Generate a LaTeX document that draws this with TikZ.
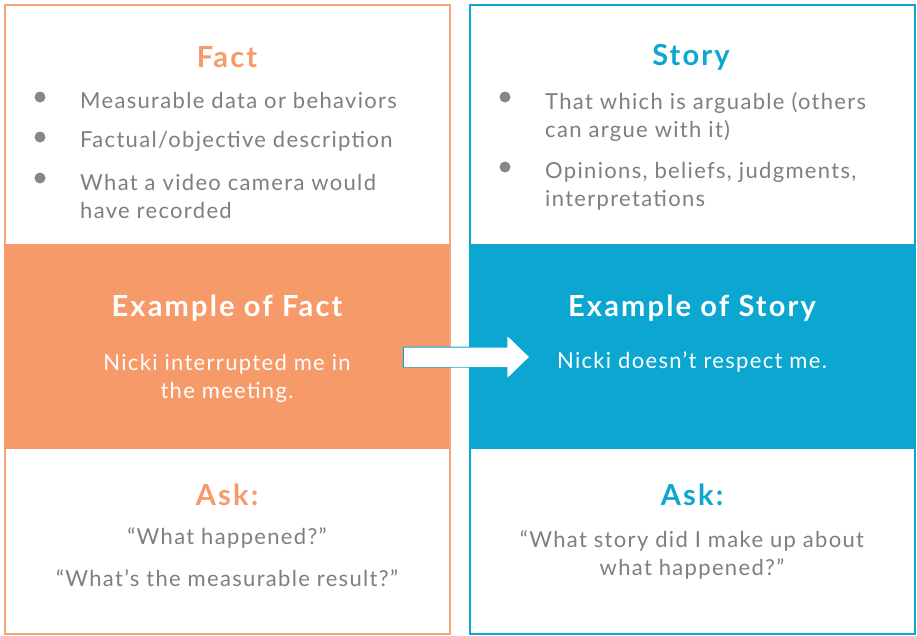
\documentclass[tikz,border=0pt]{standalone}
\usepackage{fontspec}
\setmainfont{Lato}
\newfontfamily\bodyfont{Lato}[LetterSpace=6]
\newfontfamily\headfont{Lato}[LetterSpace=7.5]
\definecolor{factorange}{HTML}{F79A69}
\definecolor{factline}{HTML}{F7A47C}
\definecolor{storyblue}{HTML}{0BA7D0}
\definecolor{bodygrey}{HTML}{7F7F7F}
\definecolor{dotgrey}{HTML}{86868A}
\begin{document}
\begin{tikzpicture}[x=1pt,y=-1pt,
  panel/.style={draw=#1,line width=2pt,fill=white,minimum width=445pt,minimum height=629pt,inner sep=0pt,anchor=north west},
  band/.style={fill=#1,minimum width=445pt,minimum height=205pt,inner sep=0pt,anchor=north west},
  heading/.style={text=#1,font=\headfont\fontsize{29}{33}\selectfont\bfseries,inner sep=0pt},
  bandhead/.style={text=white,font=\headfont\fontsize{29}{33}\selectfont\bfseries,inner sep=0pt},
  body/.style={text=bodygrey,font=\bodyfont\fontsize{22}{28.5}\selectfont,inner sep=0pt},
  bandbody/.style={text=white,font=\bodyfont\fontsize{22}{28.5}\selectfont,inner sep=0pt,align=center},
  dot/.style={circle,fill=dotgrey,minimum size=11pt,inner sep=0pt},
  item/.style={body,anchor=west,align=left},
]
\useasboundingbox (0,0) rectangle (917,635);

% two panels
\node[panel=factline] (factpanel) at (4,4) {};
\node[panel=storyblue] (storypanel) at (469,4) {};

% coloured middle bands
\node[band=factorange] (factband) at (4,244) {};
\node[band=storyblue] (storyband) at (469,244) {};

% --- Fact panel ---
\node[heading=factorange] (facttitle) at (227,57) {Fact};
\node[dot] (fd1) at (40,97) {};
\node[item] (fi1) at (80,100) {Measurable data or behaviors};
\node[dot] (fd2) at (40,137) {};
\node[item] (fi2) at (80,141) {Factual/objective description};
\node[dot] (fd3) at (40,178) {};
\node[item,anchor=north west] (fi3) at (80,174) {What a video camera would\\have recorded};

\node[bandhead] (factexhead) at (227,308) {Example of Fact};
\node[bandbody,anchor=north] (factex) at (227,354) {Nicki interrupted me in\\the meeting.};

\node[heading=factorange] (factask) at (227,495) {Ask:};
\node[body] (factq1) at (227,538) {“What happened?”};
\node[body] (factq2) at (227,578) {“What’s the measurable result?”};

% --- Story panel ---
\node[heading=storyblue] (storytitle) at (691,57) {Story};
\node[dot] (sd1) at (505,97) {};
\node[item,anchor=north west] (si1) at (545,92) {That which is arguable (others\\can argue with it)};
\node[dot] (sd2) at (505,167) {};
\node[item,anchor=north west] (si2) at (545,162) {Opinions, beliefs, judgments,\\interpretations};

\node[bandhead] (storyexhead) at (692,308) {Example of Story};
\node[bandbody] (storyex) at (692,362) {Nicki doesn’t respect me.};

\node[heading=storyblue] (storyask) at (692,495) {Ask:};
\node[body,align=center,anchor=north] (storyq) at (692,530) {“What story did I make up about\\what happened?”};

% block arrow from the fact example to the story example
\coordinate (arrtail) at (factband.east |- 0,357);
\draw[storyblue,line width=1pt,fill=white,line join=miter]
  ([xshift=-46pt,yshift=-10pt]arrtail) -- ([xshift=59pt,yshift=-10pt]arrtail)
  -- ([xshift=59pt,yshift=-21pt]arrtail) -- ([xshift=80pt]arrtail)
  -- ([xshift=59pt,yshift=21pt]arrtail) -- ([xshift=59pt,yshift=10pt]arrtail)
  -- ([xshift=-46pt,yshift=10pt]arrtail) -- cycle;
\fill[white]
  ([xshift=-45.5pt,yshift=-9.5pt]arrtail) rectangle ([xshift=60pt,yshift=9.5pt]arrtail);
\fill[white]
  ([xshift=58pt,yshift=-20.5pt]arrtail) -- ([xshift=79.5pt]arrtail) -- ([xshift=58pt,yshift=20.5pt]arrtail) -- cycle;
\end{tikzpicture}
\end{document}
